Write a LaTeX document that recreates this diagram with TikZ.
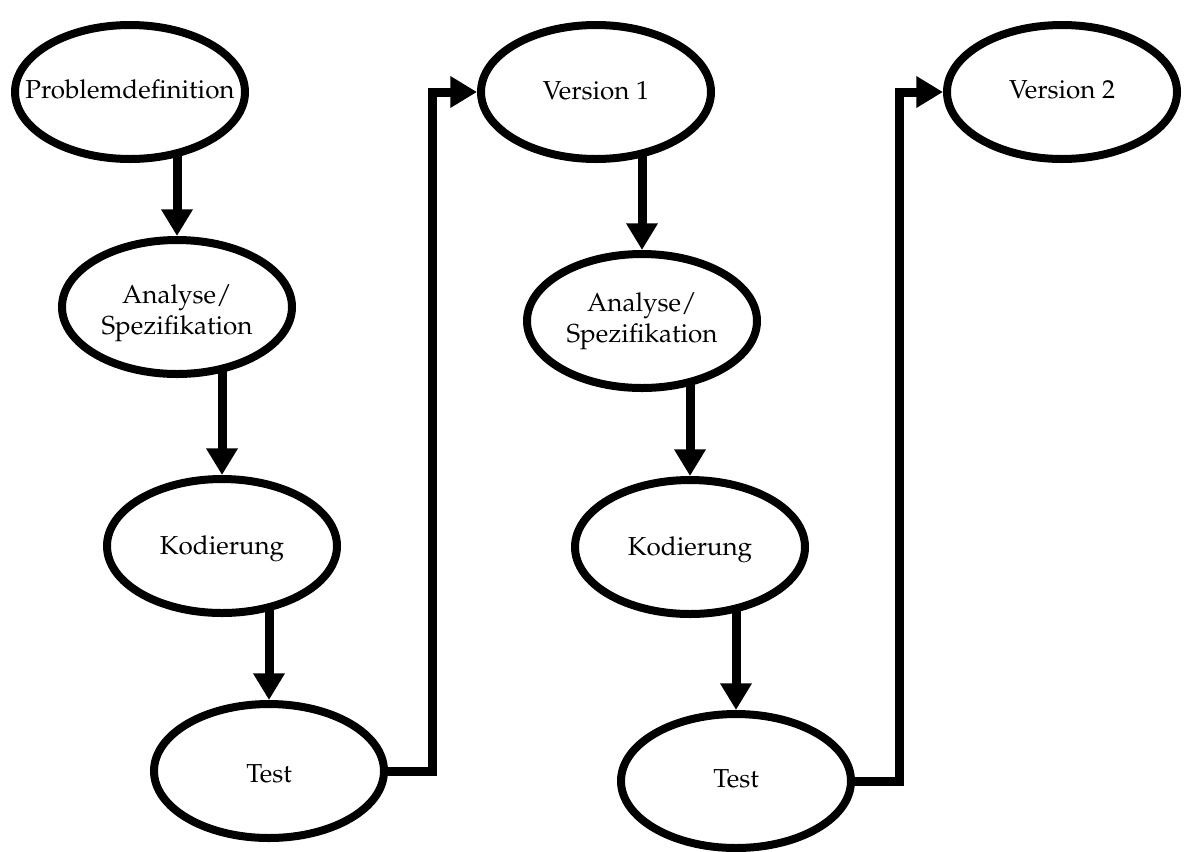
\documentclass[tikz,border=0pt]{standalone}
\usepackage[T1]{fontenc}
\usepackage{mathpazo}
\usetikzlibrary{shapes.geometric,arrows.meta,backgrounds}
\newcommand{\ctext}[2][0pt]{\makebox[0pt]{\raisebox{#1}[\height][\depth]{\begin{tabular}{@{}c@{}}#2\end{tabular}}}}
\begin{document}
\begin{tikzpicture}[x=0.75pt,y=-0.75pt,
  stage/.style={ellipse, draw=black, line width=6pt, fill=white,
    minimum width=172.5pt, minimum height=100.5pt, inner sep=0pt,
    font=\fontsize{19.5}{23.25}\selectfont},
  conn/.style={draw=black, line width=6.75pt, -{Triangle[length=20pt,width=22.5pt]}}]
\useasboundingbox (0,0) rectangle (1184,851);
\node[stage] (P)  at (130,92)  {\ctext{Problemdefinition}};
\node[stage] (A1) at (177,307) {\ctext[-4.5pt]{Analyse/\\Spezifikation}};
\node[stage] (K1) at (222,546) {\ctext[-1.5pt]{Kodierung}};
\node[stage] (T1) at (269,771) {\ctext[-4pt]{Test}};
\node[stage] (V1) at (596,92)  {\ctext[-1pt]{Version 1}};
\node[stage] (A2) at (642,321) {\ctext{Analyse/\\Spezifikation}};
\node[stage] (K2) at (690,547) {\ctext[-1.5pt]{Kodierung}};
\node[stage] (T2) at (736,781) {\ctext{Test}};
\node[stage] (V2) at (1062,92) {\ctext{Version 2}};
\coordinate (k1) at (432,92);
\coordinate (k2) at (899,92);
\begin{scope}[on background layer]
\draw[conn] (P.center -| A1.north) -- (A1.north);
\draw[conn] (A1.center -| K1.north) -- (K1.north);
\draw[conn] (K1.center -| T1.north) -- (T1.north);
\draw[conn] (T1.east) -| (k1) -- (V1.west);
\draw[conn] (V1.center -| A2.north) -- (A2.north);
\draw[conn] (A2.center -| K2.north) -- (K2.north);
\draw[conn] (K2.center -| T2.north) -- (T2.north);
\draw[conn] (T2.east) -| (k2) -- (V2.west);
\end{scope}
\end{tikzpicture}
\end{document}
